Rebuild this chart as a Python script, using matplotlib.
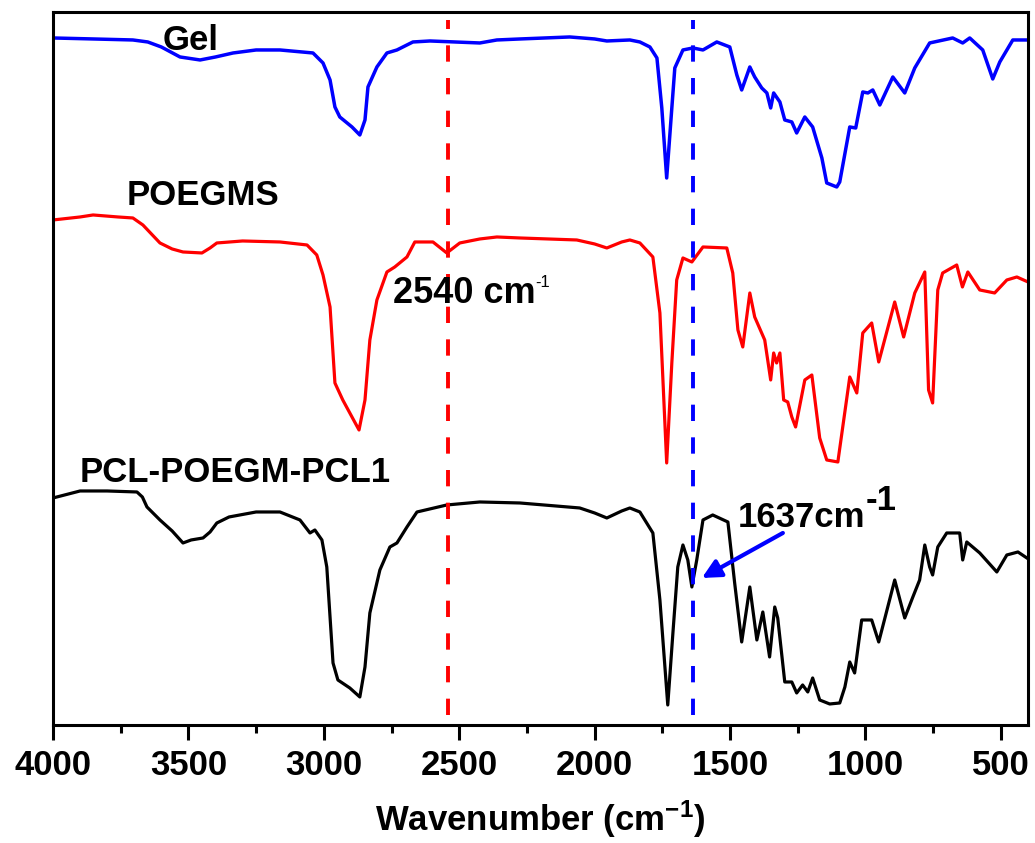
import matplotlib
matplotlib.use("Agg")
import matplotlib.pyplot as plt
from matplotlib.ticker import MultipleLocator

plt.rcParams['font.family'] = ['Liberation Sans', 'DejaVu Sans']
plt.rcParams['font.weight'] = 'bold'
plt.rcParams['mathtext.fontset'] = 'custom'
plt.rcParams['mathtext.rm'] = 'Liberation Sans:bold'
plt.rcParams['mathtext.default'] = 'rm'

# FTIR spectra, stacked, arbitrary units
gel_wn = [4000, 3850, 3705, 3650, 3600, 3531, 3457, 3400, 3335, 3250, 3162, 3040,
          3003, 2977, 2959, 2941, 2896, 2867, 2848, 2837, 2804, 2767, 2730, 2671,
          2608, 2424, 2361, 2276, 2092, 2000, 1955, 1870, 1833, 1796, 1770, 1752,
          1734, 1715, 1704, 1674, 1637, 1600, 1549, 1501, 1475, 1457, 1427, 1409,
          1383, 1364, 1350, 1339, 1316, 1298, 1272, 1254, 1224, 1195, 1161, 1143,
          1106, 1095, 1058, 1036, 1010, 991, 973, 947, 899, 855, 818, 763,
          678, 641, 615, 567, 530, 504, 456, 404]
gel_y = [687, 686, 685, 683, 678, 668, 665, 668, 672, 675, 675, 672,
         662, 645, 618, 608, 598, 590, 605, 638, 658, 672, 675, 683,
         684, 682, 685, 686, 688, 686, 684, 685, 683, 678, 667, 617,
         547, 617, 657, 675, 677, 675, 683, 678, 650, 635, 658, 648,
         637, 632, 617, 632, 623, 605, 603, 592, 608, 598, 567, 542,
         538, 543, 598, 597, 633, 632, 635, 620, 648, 632, 657, 682,
         687, 682, 687, 675, 646, 663, 685, 685]

poegms_wn = [4000, 3900, 3852, 3760, 3705, 3668, 3640, 3605, 3560, 3520, 3450, 3420,
             3395, 3300, 3162, 3062, 3026, 3003, 2977, 2959, 2930, 2896, 2870, 2848,
             2830, 2804, 2767, 2738, 2693, 2664, 2597, 2546, 2498, 2424, 2361, 2276,
             2066, 2000, 1955, 1900, 1870, 1833, 1785, 1759, 1734, 1715, 1697, 1674,
             1641, 1600, 1512, 1490, 1471, 1453, 1427, 1409, 1372, 1350, 1339, 1328,
             1316, 1302, 1287, 1272, 1258, 1224, 1198, 1169, 1143, 1102, 1058, 1032,
             1010, 977, 951, 892, 859, 818, 781, 767, 752, 733, 715, 663,
             642, 622, 578, 523, 478, 441, 400]
poegms_y = [505, 508, 510, 508, 507, 500, 492, 482, 476, 473, 472, 477,
            482, 484, 483, 480, 470, 450, 418, 342, 325, 308, 295, 325,
            385, 425, 453, 458, 468, 483, 483, 472, 482, 486, 488, 487,
            485, 481, 477, 483, 485, 482, 468, 412, 262, 362, 445, 467,
            463, 478, 477, 452, 395, 378, 432, 408, 385, 345, 372, 362,
            372, 325, 323, 308, 298, 345, 350, 287, 265, 263, 348, 332,
            392, 402, 363, 423, 388, 432, 453, 335, 322, 435, 452, 460,
            438, 453, 435, 432, 445, 448, 443]

pcl_wn = [4000, 3900, 3800, 3690, 3670, 3653, 3605, 3560, 3520, 3490, 3446, 3420,
          3395, 3350, 3250, 3162, 3088, 3051, 3033, 3007, 2989, 2966, 2948, 2904,
          2867, 2848, 2830, 2793, 2756, 2730, 2693, 2656, 2546, 2424, 2276, 2055,
          2000, 1955, 1900, 1870, 1833, 1785, 1759, 1730, 1711, 1693, 1674, 1656,
          1641, 1623, 1600, 1564, 1508, 1483, 1457, 1427, 1401, 1379, 1354, 1335,
          1324, 1298, 1272, 1254, 1232, 1213, 1195, 1169, 1132, 1095, 1076, 1058,
          1040, 1014, 977, 951, 892, 855, 825, 800, 781, 763, 752, 733,
          700, 652, 641, 626, 578, 515, 478, 437, 404]
pcl_y = [227, 234, 234, 233, 228, 218, 205, 194, 182, 185, 187, 193,
         202, 208, 213, 213, 205, 192, 195, 185, 158, 62, 45, 37,
         28, 58, 112, 155, 178, 182, 198, 213, 220, 223, 222, 217,
         212, 207, 214, 217, 213, 192, 125, 20, 92, 158, 180, 165,
         138, 165, 205, 210, 203, 142, 83, 138, 85, 113, 68, 118,
         107, 43, 43, 32, 40, 33, 47, 25, 21, 22, 38, 63,
         52, 105, 105, 83, 145, 107, 128, 145, 180, 158, 150, 178,
         192, 192, 165, 183, 172, 153, 170, 173, 167]

marked_wn = [2540, 1637]
marked_colors = ['#ff0000', '#0000ff']

fig = plt.figure(figsize=(10.35, 8.43), dpi=100)
ax = fig.add_axes([0.0512, 0.140, 0.942, 0.8458])

ax.plot(gel_wn, gel_y, color='#0000ff', lw=2.5)
ax.plot(poegms_wn, poegms_y, color='#ff0000', lw=2.3)
ax.plot(pcl_wn, pcl_y, color='black', lw=2.3)

for wn, c in zip(marked_wn, marked_colors):
    ax.plot([wn, wn], [10, 705], color=c, lw=2.8, dashes=(4.2, 4.2))

ax.set_xlim(4000, 400)
ax.set_ylim(0, 713)
ax.set_yticks([])
ax.xaxis.set_major_locator(MultipleLocator(500))
ax.xaxis.set_minor_locator(MultipleLocator(250))
ax.tick_params(axis='x', which='major', direction='out', length=11, width=2.2,
               labelsize=25, pad=6)
ax.tick_params(axis='x', which='minor', direction='out', length=6, width=2.2)
for s in ax.spines.values():
    s.set_linewidth(2.2)

ax.set_xlabel(r'Wavenumber (cm$^{-1}$)', fontsize=25, fontweight='bold', labelpad=12)

ax.text(3594, 675, 'Gel', fontsize=25, fontweight='bold')
ax.text(3727, 520, 'POEGMS', fontsize=25, fontweight='bold')
ax.text(3900, 243, 'PCL-POEGM-PCL1', fontsize=25, fontweight='bold')
ax.text(2745, 422, '2540 cm', fontsize=26, fontweight='bold')
ax.text(2218, 438, '-1', fontsize=12, fontweight='normal')
ax.text(1471, 198, '1637cm', fontsize=25, fontweight='bold')
ax.text(1000, 215, '-1', fontsize=25, fontweight='bold')

ax.annotate('', xy=(1604, 147), xytext=(1305, 192),
            arrowprops=dict(arrowstyle='-|>', color='#0000ff', lw=3,
                            mutation_scale=28, shrinkA=0, shrinkB=0))

fig.savefig('out.png', dpi=100)
